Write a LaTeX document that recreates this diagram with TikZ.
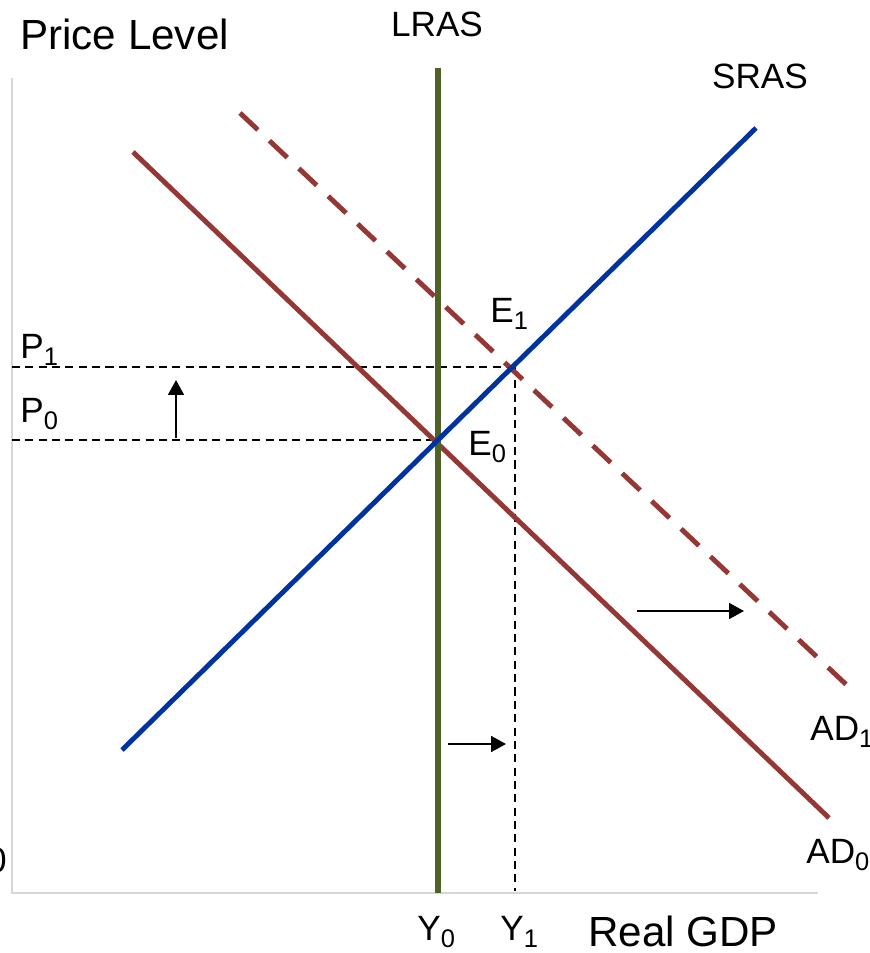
\documentclass[tikz,border=0pt]{standalone}
\usepackage{fontspec}
\setmainfont{Liberation Sans}
\usetikzlibrary{arrows.meta}
\definecolor{ADRed}{RGB}{149,55,53}
\definecolor{SRASBlue}{RGB}{0,51,160}
\definecolor{LRASGreen}{RGB}{79,98,40}
\definecolor{AxisGray}{RGB}{215,215,215}
\newcommand{\lowsub}[1]{\raisebox{-4.5pt}{\fontsize{14.5}{16}\selectfont #1}}

\begin{document}
\begin{tikzpicture}[
    x=0.02cm, y=-0.02cm,
    axisline/.style={draw=AxisGray, line width=1.1pt},
    adline/.style={draw=ADRed, line width=2.8pt},
    adshift/.style={adline, dash pattern=on 14pt off 9pt},
    sras/.style={draw=SRASBlue, line width=2.8pt},
    lras/.style={draw=LRASGreen, line width=3.4pt},
    guide/.style={draw=black, line width=1.6pt, dash pattern=on 4.6pt off 3pt},
    shiftarrow/.style={-{Triangle[length=8.5pt,width=9pt]}, line width=1.3pt, draw=black},
    lbl/.style={inner sep=0pt, font=\fontsize{20}{22}\selectfont},
    biglbl/.style={inner sep=0pt, font=\fontsize{24}{28}\selectfont},
    curvelbl/.style={inner sep=0pt, font=\fontsize{20}{24}\selectfont}
  ]
    \useasboundingbox (0,0) rectangle (869,953);

    % axes
    \coordinate (origin) at (12,893);
    \coordinate (ytop) at (12,78);
    \coordinate (xend) at (818,893);
    \draw[axisline] (ytop) -- (origin) -- (xend);

    % curves
    \coordinate (lrasTop) at (438,68);
    \coordinate (lrasBot) at (438,893);
    \coordinate (srasLow) at (122,750);
    \coordinate (srasHigh) at (756,128);
    \coordinate (adzStart) at (133,152);
    \coordinate (adzEnd) at (829,818);
    \coordinate (adoStart) at (240,113);
    \coordinate (adoEnd) at (852,690);
    \coordinate (eZero) at (438,440);
    \coordinate (eOne) at (515,367);
    \coordinate (pOneAx) at (12,367);
    \coordinate (pZeroAx) at (12,440);
    \coordinate (yOneAx) at (515,891);

    % guides
    \draw[guide] (pOneAx) -- (eOne);
    \draw[guide] (pZeroAx) -- (eZero);
    \draw[guide] (eOne) -- (yOneAx);

    \draw[adshift] (adoStart) -- (adoEnd);
    \draw[adline] (adzStart) -- (adzEnd);
    \draw[lras] (lrasTop) -- (lrasBot);
    \draw[sras] (srasLow) -- (srasHigh);

    % shift arrows
    \coordinate (upTail) at (176,438);
    \coordinate (upTip) at (176,380);
    \coordinate (adTail) at (637,611);
    \coordinate (adTip) at (744,611);
    \coordinate (yTail) at (448,744);
    \coordinate (yTip) at (506,744);
    \draw[shiftarrow] (upTail) -- (upTip);
    \draw[shiftarrow] (adTail) -- (adTip);
    \draw[shiftarrow] (yTail) -- (yTip);

    % labels
    \node[biglbl, anchor=base west] (priceLevel) at (20,50) {Price Level};
    \node[biglbl, anchor=base west] (realGDP) at (588,946) {Real GDP};
    \node[curvelbl, anchor=base] (lrasLbl) at (437,37) {LRAS};
    \node[curvelbl, anchor=base] (srasLbl) at (760,89) {SRAS};
    \node[lbl, anchor=base west] (eOneLbl) at (490,322) {E\lowsub{1}};
    \node[lbl, anchor=base west] (eZeroLbl) at (468,455) {E\lowsub{0}};
    \node[lbl, anchor=base west] (pOneLbl) at (20,358) {P\lowsub{1}};
    \node[lbl, anchor=base west] (pZeroLbl) at (20,422) {P\lowsub{0}};
    \node[lbl, anchor=base west] (yZeroLbl) at (417,940) {Y\lowsub{0}};
    \node[lbl, anchor=base west] (yOneLbl) at (500,940) {Y\lowsub{1}};
    \node[lbl, anchor=base west] (adZeroLbl) at (806,863) {AD\lowsub{0}};
    \node[lbl, anchor=base west] (adOneLbl) at (810,740) {AD\lowsub{1}};
    \node[lbl, anchor=base east] (zeroLbl) at (7,872) {0};
  \end{tikzpicture}
\end{document}
